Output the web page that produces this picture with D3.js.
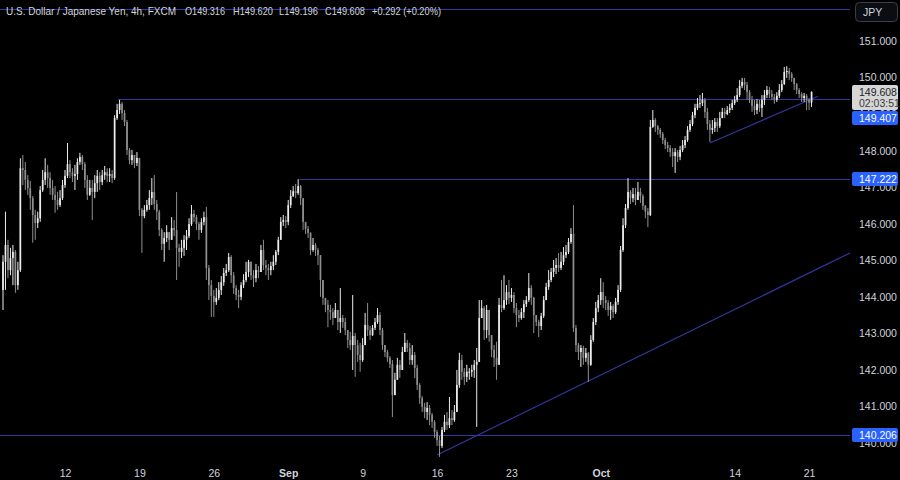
<!DOCTYPE html>
<html><head><meta charset="utf-8">
<script src="https://cdn.jsdelivr.net/npm/d3@7"></script>
<style>html,body{margin:0;padding:0;background:#000;overflow:hidden}svg{display:block}</style>
</head><body><svg id="c" width="900" height="480"></svg>
<script>
// ---------- DATA (USD/JPY, 4h bars, FXCM) ----------
const symbolTitle = "U.S. Dollar / Japanese Yen, 4h, FXCM";
const currency = "JPY";
const countdown = "02:03:51";
const firstOpen = 144.19;
const closes = [
144.96,145.42,144.73,145.06,145.23,144.32,144.73,147.52,147.47,147.20,
146.97,146.70,146.24,146.02,146.15,146.92,147.20,147.41,147.25,146.98,
146.79,146.65,146.51,146.70,147.06,147.31,147.63,147.41,147.31,147.36,
147.69,147.83,147.63,147.20,146.79,146.98,146.87,147.11,147.31,147.14,
147.33,147.41,147.31,147.36,147.25,148.89,149.11,149.28,149.03,148.78,
148.02,147.74,147.88,147.66,147.80,146.38,146.21,146.38,146.51,146.70,
146.87,146.54,146.33,145.83,145.45,145.61,145.77,145.56,145.88,145.83,
145.34,145.23,145.34,145.56,145.66,145.99,146.27,146.18,145.99,145.83,
146.05,146.18,144.79,144.32,144.02,143.86,143.97,144.19,144.40,144.65,
144.73,145.09,144.59,144.24,144.05,144.00,144.32,144.46,144.68,144.96,
144.59,144.51,144.73,144.68,145.28,144.87,144.79,144.73,144.84,144.96,
145.23,145.56,146.05,146.10,146.05,146.51,146.76,146.89,146.84,147.03,
146.70,146.05,145.86,145.75,145.28,145.42,145.28,145.14,144.46,143.97,
143.78,143.64,143.58,143.42,143.64,143.31,143.42,143.31,143.09,142.82,
142.68,142.93,142.68,142.41,142.27,142.68,143.23,143.09,142.95,143.15,
143.31,143.50,143.09,142.68,142.49,142.33,142.16,141.31,141.73,142.14,
142.00,142.49,142.74,142.60,142.27,142.41,142.05,141.59,141.23,140.99,
140.85,140.96,140.77,140.58,140.30,140.08,139.92,140.36,140.58,140.49,
140.68,140.63,140.85,141.59,142.27,141.95,141.81,141.95,141.95,142.00,
142.14,142.22,143.42,143.69,143.09,143.64,142.95,142.55,142.33,142.14,
143.78,143.69,143.91,144.13,143.97,144.05,143.69,143.50,143.42,143.58,
143.80,143.91,144.24,143.97,143.50,143.31,143.20,143.48,143.91,144.27,
144.46,144.68,144.79,144.87,144.79,144.96,145.14,145.23,145.50,145.72,
143.15,142.68,142.49,142.60,142.33,142.46,142.14,142.82,143.31,143.69,
143.91,144.13,143.91,143.83,143.64,143.75,143.58,143.86,144.19,145.28,
145.96,146.43,146.87,146.70,146.81,146.65,146.87,146.76,146.49,146.33,
146.24,148.65,148.84,148.67,148.57,148.46,148.29,148.15,148.07,147.96,
147.85,147.96,147.83,148.02,148.15,148.29,148.57,148.73,148.97,149.17,
149.28,149.30,149.39,149.06,148.73,148.57,148.62,148.78,148.67,148.89,
149.06,149.00,149.11,149.17,149.30,149.39,149.52,149.77,149.88,149.80,
149.60,149.39,149.22,149.11,149.28,149.17,149.39,149.52,149.66,149.55,
149.47,149.39,149.50,149.66,149.82,150.15,150.18,150.10,149.99,149.82,
149.66,149.55,149.44,149.50,149.39,149.316,149.608];
const highs = [
145.14,146.33,145.56,145.34,145.42,145.28,144.96,147.79,147.88,147.69,
147.33,147.17,146.76,146.38,146.33,147.03,147.47,147.79,147.61,147.41,
147.20,147.03,146.87,146.92,147.20,147.47,148.21,147.74,147.52,147.61,
147.79,147.94,147.88,147.69,147.33,147.20,147.20,147.33,147.47,147.41,
147.47,147.58,147.52,147.52,147.47,148.97,149.28,149.39,149.33,149.11,
148.84,148.07,148.02,147.88,147.96,147.74,146.43,146.51,146.65,146.92,
147.25,147.33,146.65,146.38,145.88,145.77,145.96,145.77,146.18,146.10,
146.87,145.45,145.56,145.69,145.83,146.15,146.51,146.38,146.24,146.05,
146.15,146.33,146.46,144.87,144.46,144.19,144.24,144.40,144.57,144.79,
144.90,145.20,145.14,144.68,144.32,144.19,144.40,144.62,144.96,145.01,
144.96,144.73,144.90,144.84,145.42,145.56,145.01,144.90,144.96,145.14,
145.28,145.64,146.18,146.24,146.21,146.65,146.92,147.03,147.09,147.22,
147.06,146.65,145.99,145.94,145.77,145.61,145.47,145.34,145.12,144.19,
143.97,143.91,143.78,143.69,143.83,143.58,144.24,143.50,143.42,143.09,
143.04,144.05,143.01,142.82,142.74,142.87,143.56,143.83,143.20,143.23,
143.42,143.69,143.58,143.15,142.68,142.55,142.38,142.27,141.92,142.33,
142.27,142.63,143.01,142.82,142.74,142.68,142.49,142.14,141.64,141.29,
141.10,141.12,141.04,140.82,140.63,140.36,140.19,140.44,140.77,140.85,
141.26,140.90,141.04,142.00,142.47,142.41,142.05,142.14,142.05,142.14,
142.27,142.60,143.91,143.91,143.75,143.78,143.42,142.95,142.68,142.77,
143.97,144.46,144.59,144.32,144.46,144.24,144.13,143.83,143.64,143.69,
143.91,144.02,144.65,144.32,144.00,143.50,143.37,143.56,144.02,144.38,
144.73,144.79,145.01,145.06,145.20,145.23,145.36,145.42,145.61,145.88,
146.51,143.23,142.74,142.68,142.66,142.60,142.49,142.95,143.42,143.86,
144.05,144.51,144.40,144.02,143.91,143.86,143.80,143.97,144.32,145.39,
146.15,146.54,147.25,146.92,146.98,146.98,147.14,146.98,146.81,146.51,
146.43,148.84,149.11,148.89,148.70,148.62,148.51,148.35,148.24,148.15,
148.07,148.07,148.02,148.13,148.29,148.40,148.67,148.84,149.06,149.28,
149.44,149.52,149.58,149.44,149.17,148.84,148.84,148.89,148.89,149.06,
149.17,149.17,149.22,149.28,149.39,149.50,149.71,149.93,149.99,149.99,
149.88,149.66,149.50,149.39,149.41,149.39,149.52,149.66,149.77,149.74,
149.66,149.55,149.60,149.82,149.93,150.29,150.31,150.26,150.15,149.99,
149.85,149.71,149.60,149.58,149.55,149.44,149.62];
const lows = [
143.64,144.19,144.51,144.59,144.32,144.11,144.19,144.68,147.06,146.92,
146.79,146.38,145.48,145.56,145.88,146.05,146.87,147.06,146.98,146.79,
146.65,146.30,146.38,146.46,146.65,146.98,147.25,147.25,147.14,146.92,
147.20,147.61,147.47,146.98,146.65,146.76,146.10,146.70,146.87,146.92,
147.06,147.20,147.14,147.14,147.11,147.20,148.84,149.00,148.84,148.67,
147.88,147.63,147.61,147.52,147.58,146.21,145.20,146.15,146.33,146.38,
146.51,146.38,146.10,145.66,145.28,144.96,145.50,145.28,145.56,145.66,
144.46,144.82,145.06,145.12,145.28,145.61,145.94,146.05,145.83,145.56,
145.75,145.96,144.46,143.91,143.45,143.45,143.78,143.91,144.05,144.30,
144.57,144.68,144.38,144.08,143.91,143.69,143.91,144.24,144.40,144.54,
144.46,144.27,144.40,144.51,144.68,144.73,144.59,144.46,144.59,144.73,
144.87,145.14,145.56,145.94,145.88,145.96,146.43,146.73,146.70,146.79,
146.51,145.83,145.72,145.61,145.14,145.23,145.12,144.87,144.00,143.78,
143.58,143.17,143.37,143.23,143.42,143.09,143.01,143.15,142.95,142.60,
142.55,142.00,141.81,142.22,141.95,142.22,142.68,142.93,142.82,142.93,
143.09,143.26,142.95,142.55,142.35,142.22,142.05,140.71,141.40,141.86,
141.78,142.22,142.49,142.49,142.14,142.14,141.78,141.45,141.07,140.85,
140.68,140.63,140.49,140.41,140.14,139.92,139.62,139.86,140.30,140.36,
140.41,140.49,140.58,140.85,141.51,141.73,141.59,141.67,141.73,141.81,
141.78,140.44,142.27,143.42,142.82,142.87,142.77,142.35,142.08,141.73,
142.22,143.58,143.64,143.78,143.80,143.86,143.56,143.17,143.31,143.37,
143.42,143.72,143.86,143.78,143.01,143.20,142.90,143.09,143.42,143.91,
144.19,144.40,144.54,144.62,144.68,144.73,144.87,145.06,145.17,145.45,
143.04,142.49,142.27,142.08,142.14,142.22,141.67,142.11,142.77,143.23,
143.58,143.78,143.69,143.64,143.48,143.37,143.42,143.53,143.78,144.13,
145.23,145.88,146.38,146.54,146.59,146.51,146.65,146.57,146.38,146.15,
145.91,146.21,148.62,148.51,148.43,148.35,148.18,148.04,147.96,147.83,
147.55,147.39,147.69,147.74,147.96,148.07,148.24,148.51,148.67,148.89,
149.11,149.17,149.22,148.89,148.57,148.24,148.46,148.51,148.51,148.62,
148.89,148.89,148.97,149.03,149.11,149.25,149.33,149.47,149.71,149.66,
149.39,149.30,149.06,148.97,149.00,149.06,148.92,149.25,149.44,149.44,
149.39,149.28,149.33,149.44,149.60,149.80,149.99,149.93,149.88,149.66,
149.55,149.44,149.33,149.33,149.11,149.11,149.196];

const priceTicks = [140,141,142,143,144,145,146,147,148,149,150,151];
const timeTickBars = [25,55,85,115,145,175,205,241,295,325];
const timeTickLabels = ["12","19","26","Sep","9","16","23","Oct","14","21"];

// horizontal levels: price, first bar index, with axis label?
const levelPrices = [151.876, 149.407, 147.222, 140.206];
const levelStartBars = [-2, 46.4, 119.6, -2];
const levelLabelled = [false, true, true, true];

// trend lines: [bar, price] start and end
const trendStarts = [[175, 139.67], [285, 148.21]];
const trendEnds   = [[341.5, 145.20], [328.6, 149.49]];

// ---------- CHART ----------
const svg = d3.select("#c");
const W = 900, H = 480, plotRight = 850;
svg.append("rect").attr("width", W).attr("height", H).attr("fill", "#000");

const x = d3.scaleLinear().domain([0, 341.5]).range([3, plotRight]);
const y = d3.scaleLinear().domain([140, 151]).range([443, 41]);

const FONT = "'Liberation Sans', Arial, sans-serif";
const TXT = "#d1d4dc";
const LINE = "#3138a0";

const bars = closes.map((c, i) => ({
  i, c, o: i ? closes[i - 1] : firstOpen, h: highs[i], l: lows[i]
}));

const plot = svg.append("g");

// levels
plot.selectAll("line.level").data(levelPrices).join("line")
  .attr("class", "level")
  .attr("x1", (d, k) => Math.max(0, x(levelStartBars[k])))
  .attr("x2", plotRight)
  .attr("y1", d => Math.round(y(d)) + 0.5)
  .attr("y2", d => Math.round(y(d)) + 0.5)
  .attr("stroke", LINE).attr("stroke-width", 1);

// trend lines
plot.selectAll("line.trend").data(trendStarts).join("line")
  .attr("class", "trend")
  .attr("x1", d => x(d[0])).attr("y1", d => y(d[1]))
  .attr("x2", (d, k) => x(trendEnds[k][0])).attr("y2", (d, k) => y(trendEnds[k][1]))
  .attr("stroke", LINE).attr("stroke-width", 1.2);

// candles
const UP = "#ececec", DOWN = "#8f8f8f";
const cg = plot.append("g");
cg.selectAll("line.wick").data(bars).join("line")
  .attr("class", "wick")
  .attr("x1", d => x(d.i)).attr("x2", d => x(d.i))
  .attr("y1", d => y(Math.max(d.h, d.o, d.c)))
  .attr("y2", d => y(Math.min(d.l, d.o, d.c)))
  .attr("stroke", d => d.c >= d.o ? UP : DOWN).attr("stroke-width", 1);
cg.selectAll("rect.body").data(bars).join("rect")
  .attr("class", "body")
  .attr("x", d => x(d.i) - 0.85).attr("width", 1.7)
  .attr("y", d => y(Math.max(d.o, d.c)))
  .attr("height", d => Math.max(1, Math.abs(y(d.o) - y(d.c))))
  .attr("fill", d => d.c >= d.o ? UP : DOWN);

// last price label geometry
const last = bars[bars.length - 1];
const lastTop = Math.round(y(last.c)) - 7, lastH = 25;

// level label boxes (pushed below the last price label if they collide)
const levelBoxes = [];
levelPrices.forEach((p, k) => {
  if (!levelLabelled[k]) return;
  let top = Math.round(y(p)) - 7;
  if (top < lastTop + lastH + 1 && top + 14 > lastTop) top = lastTop + lastH + 1;
  levelBoxes.push({ p, top });
});
const allBoxes = levelBoxes.map(b => [b.top, b.top + 14]).concat([[lastTop, lastTop + lastH]]);

// price axis (ticks whose label sits entirely under a label box are not drawn)
const visibleTicks = priceTicks.filter(t => !allBoxes.some(([a, b]) => y(t) - 4 >= a && y(t) + 4 <= b));
const ya = svg.append("g").attr("transform", `translate(${plotRight},0)`)
  .call(d3.axisRight(y).tickValues(visibleTicks).tickFormat(d3.format(".3f")).tickSize(0).tickPadding(9));
ya.select(".domain").remove();
ya.selectAll("text").attr("fill", TXT).attr("font-family", FONT).attr("font-size", 10.5);

// time axis
const xa = svg.append("g").attr("transform", `translate(0,470)`)
  .call(d3.axisBottom(x).tickValues(timeTickBars).tickFormat((d, k) => timeTickLabels[k]).tickSize(0).tickPadding(0));
xa.select(".domain").remove();
xa.selectAll("text").attr("fill", TXT).attr("font-family", FONT).attr("font-size", 10.5)
  .attr("font-weight", (d, k) => isNaN(+timeTickLabels[k]) ? "bold" : "normal");

const lab = svg.append("g");
lab.append("rect").attr("x", 852).attr("y", lastTop).attr("width", 46).attr("height", lastH)
  .attr("rx", 2).attr("fill", "#d6d6d6");
lab.append("text").attr("x", 859).attr("y", lastTop + 7).attr("dy", "0.35em")
  .attr("fill", "#1c1c1c").attr("font-family", FONT).attr("font-size", 10.5).text(d3.format(".3f")(last.c));
lab.append("text").attr("x", 859).attr("y", lastTop + 18).attr("dy", "0.35em")
  .attr("fill", "#3a3a3a").attr("font-family", FONT).attr("font-size", 10.5).text(countdown);

levelBoxes.forEach(b => {
  lab.append("rect").attr("x", 852).attr("y", b.top).attr("width", 46).attr("height", 14)
    .attr("rx", 2).attr("fill", "#2962ff");
  lab.append("text").attr("x", 859).attr("y", b.top + 7).attr("dy", "0.35em")
    .attr("fill", "#ffffff").attr("font-family", FONT).attr("font-size", 10.5).text(d3.format(".3f")(b.p));
});

// currency box
lab.append("rect").attr("x", 855.5).attr("y", 2.5).attr("width", 42).attr("height", 19)
  .attr("rx", 4).attr("fill", "#0b0d13").attr("stroke", "#3a3d48");
lab.append("text").attr("x", 863).attr("y", 12).attr("dy", "0.35em")
  .attr("fill", TXT).attr("font-family", FONT).attr("font-size", 10.5).text(currency);

// header legend
const prev = bars[bars.length - 2].c;
const chg = last.c - prev;
const f3 = d3.format(".3f");
const headerParts = [
  symbolTitle,
  "O" + f3(last.o), "H" + f3(last.h), "L" + f3(last.l), "C" + f3(last.c),
  (chg >= 0 ? "+" : "") + f3(chg) + " (" + (chg >= 0 ? "+" : "") + d3.format(".2f")(chg / prev * 100) + "%)"
];
const headerX = [6, 185, 233, 279, 325, 372];
const headerW = [170, 40, 40, 39, 40, 69];
svg.append("g").selectAll("text").data(headerParts).join("text")
  .attr("x", (d, k) => headerX[k]).attr("y", 11).attr("dy", "0.35em")
  .attr("fill", TXT).attr("font-family", FONT).attr("font-size", 11)
  .attr("textLength", (d, k) => headerW[k]).attr("lengthAdjust", "spacingAndGlyphs")
  .text(d => d);
</script></body></html>
